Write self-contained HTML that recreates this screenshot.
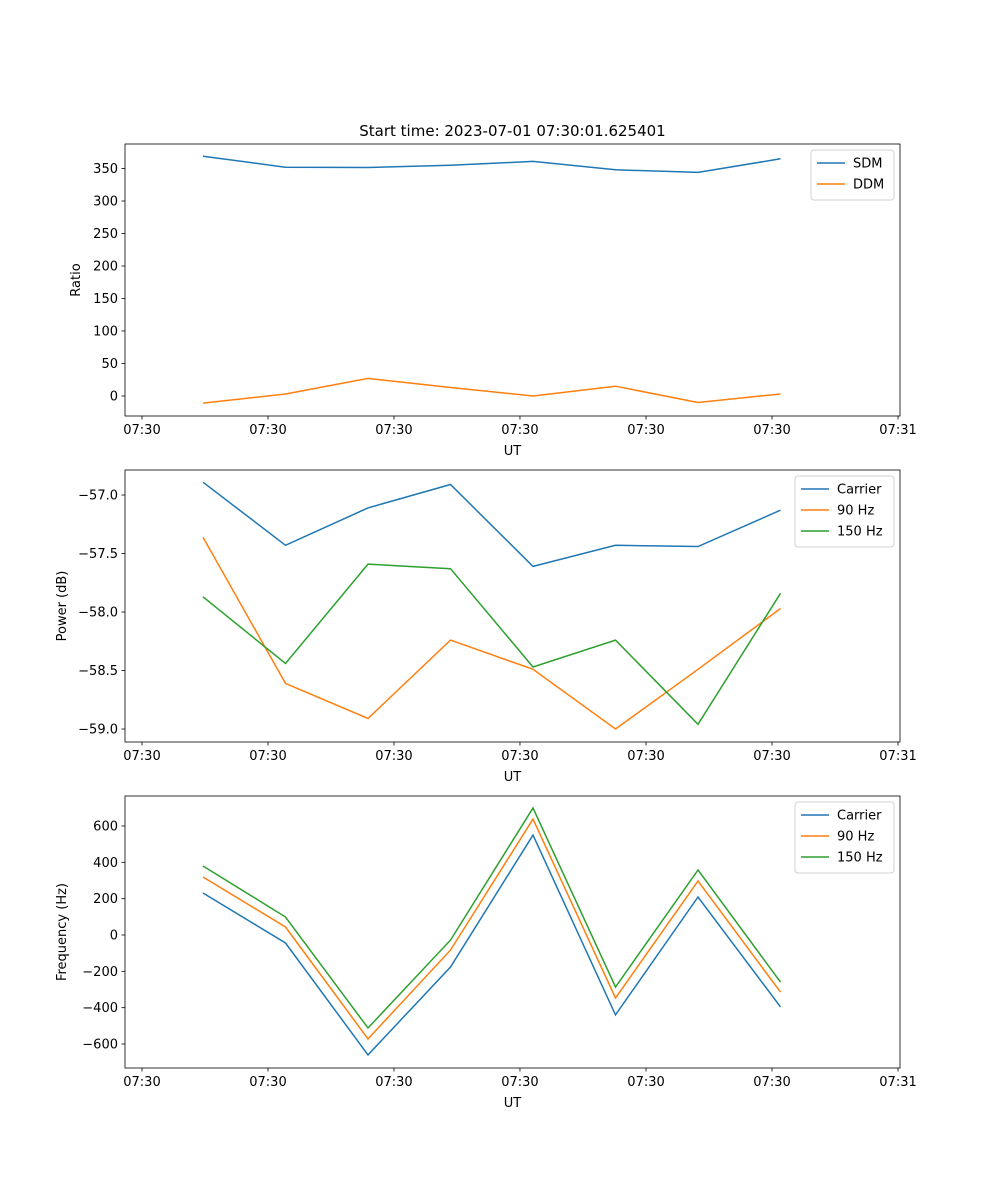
<!DOCTYPE html>
<html><head><meta charset="utf-8">
<style>
body{margin:0;background:#fff;}
svg{display:block;font-family:"DejaVu Sans","Liberation Sans",sans-serif;}
</style></head>
<body>
<svg id="fig" width="1000" height="1200" viewBox="0 0 1000 1200">
<text x="512.5" y="136" font-size="15" text-anchor="middle">Start time: 2023-07-01 07:30:01.625401</text>
</svg>
<script>
// shared x data (sample index) and tick labels
const samples=[0,1,2,3,4,5,6,7];
const xTickVals=[-0.739,0.788,2.315,3.842,5.370,6.897,8.424];
const xTickLabels=["07:30","07:30","07:30","07:30","07:30","07:30","07:31"];
// panel 1
const sdm=[369,352,351.5,355,361,348,344,365];
const ddm=[-11,3,27,13,0,15,-10,3];
const p1Ticks=[0,50,100,150,200,250,300,350];
// panel 2
const powCarrier=[-56.89,-57.43,-57.11,-56.91,-57.61,-57.43,-57.44,-57.13];
const pow90=[-57.36,-58.61,-58.91,-58.24,-58.49,-59.0,-58.49,-57.97];
const pow150=[-57.87,-58.44,-57.59,-57.63,-58.47,-58.24,-58.96,-57.84];
const p2Ticks=[-57.0,-57.5,-58.0,-58.5,-59.0];
// panel 3
const frqCarrier=[231,-44,-660,-176,550,-440,209,-396];
const frq90=[319,44,-572,-83,638,-347,297,-314];
const frq150=[380,99,-512,-28,699,-286,358,-259];
const p3Ticks=[-600,-400,-200,0,200,400,600];

const NS="http://www.w3.org/2000/svg";
const svg=document.getElementById('fig');
const L=125,R=900,XMIN=-0.945,XMAX=8.448;
const xs=v=>L+(v-XMIN)/(XMAX-XMIN)*(R-L);
function el(t,a,p){const e=document.createElementNS(NS,t);for(const k in a)e.setAttribute(k,a[k]);(p||svg).appendChild(e);return e;}
const C=["#1f77b4","#ff7f0e","#2ca02c"];
function fmt(v,dec){let s=v.toFixed(dec);if(v<0)s="\u2212"+s.slice(1);return s;}

function panel(id,top,bot,ymin,ymax,ticks,dec,ylabel,series,names,legendW){
  const ys=v=>bot-(v-ymin)/(ymax-ymin)*(bot-top);
  const g=el('g',{});
  
  
  series.forEach((s,i)=>{
    const pts=s.map((v,j)=>xs(samples[j]).toFixed(1)+","+ys(v).toFixed(1)).join(" ");
    const pl=el('polyline',{points:pts,fill:"none",stroke:C[i],"stroke-width":1.5},g);
    
    
  });
  const fr=el('rect',{x:L,y:top,width:R-L,height:bot-top,fill:"none",stroke:"#000","stroke-width":0.8},g);
  
  
  xTickVals.forEach((v,i)=>{
    const x=xs(v);
    el('line',{x1:x,x2:x,y1:bot,y2:bot+3.5,stroke:"#000","stroke-width":0.8},g);
    const t=el('text',{x:x,y:bot+18,"font-size":13,"text-anchor":"middle"},g);
    t.textContent=xTickLabels[i];
    
    
  });
  ticks.forEach(v=>{
    const y=ys(v);
    el('line',{x1:L,x2:L-3.5,y1:y,y2:y,stroke:"#000","stroke-width":0.8},g);
    const t=el('text',{x:L-7,y:y+4.5,"font-size":13,"text-anchor":"end"},g);
    t.textContent=fmt(v,dec);
    
    
  });
  const xl=el('text',{x:(L+R)/2,y:bot+39,"font-size":13,"text-anchor":"middle"},g);
  xl.textContent="UT";
  
  
  const yc=(top+bot)/2;
  const xpos=id==="ratio-panel"?80:66;
  const yl=el('text',{x:xpos,y:yc,"font-size":13,"text-anchor":"middle",transform:`rotate(-90 ${xpos} ${yc})`},g);
  yl.textContent=ylabel;
  
  
  // legend
  const lh=8+names.length*21;
  const lx=R-6-legendW, ly=top+6;
  const lg=el('g',{},g);
  
  
  el('rect',{x:lx,y:ly,width:legendW,height:lh,rx:3,fill:"#fff",stroke:"#ccc","stroke-width":1,opacity:0.9},lg);
  names.forEach((n,i)=>{
    const yy=ly+13+i*21;
    el('line',{x1:lx+6,x2:lx+34,y1:yy,y2:yy,stroke:C[i],"stroke-width":1.5},lg);
    const t=el('text',{x:lx+42,y:yy+4.5,"font-size":13},lg);
    t.textContent=n;
    
    
  });
}
panel("ratio-panel",144,416,-30.8,387.7,p1Ticks,0,"Ratio",[sdm,ddm],["SDM","DDM"],83);
panel("power-panel",470,742,-59.111,-56.786,p2Ticks,1,"Power (dB)",[powCarrier,pow90,pow150],["Carrier","90 Hz","150 Hz"],99);
panel("frequency-panel",796,1068,-732,765,p3Ticks,0,"Frequency (Hz)",[frqCarrier,frq90,frq150],["Carrier","90 Hz","150 Hz"],99);
</script>
</body></html>
